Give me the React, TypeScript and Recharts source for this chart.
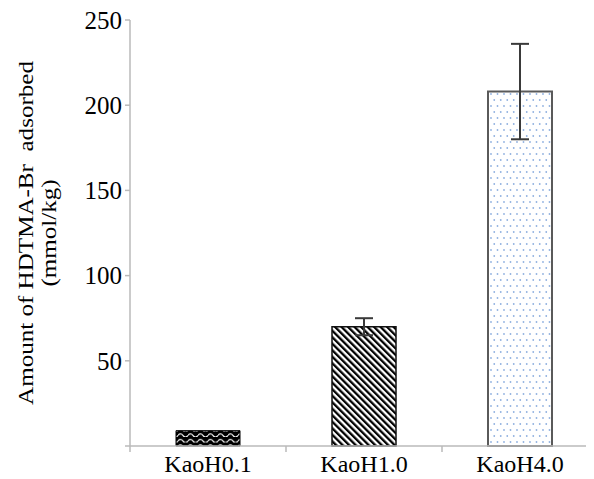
import React from 'react';
import { BarChart, Bar, XAxis, YAxis, ErrorBar, Cell, Label } from 'recharts';

const categories = ['KaoH0.1', 'KaoH1.0', 'KaoH4.0'];
const values = [9, 70, 208];
const errors = [0, 5, 28];
const yTicks = [0, 50, 100, 150, 200, 250];
const xTicks = [0, 0.5, 1, 1.5, 2, 2.5, 3];

const data = categories.map((name, i) => ({ name, pos: i + 0.5, value: values[i], err: errors[i] }));

const fills = ['url(#wave)', 'url(#diag)', 'url(#dots)'];
const strokes = ['#000000', '#111111', '#5a5a5a'];
const strokeWidths = [1, 1.5, 2];

const FONT = '"Liberation Serif", "Times New Roman", serif';
const AXIS = '#bababa';

const XTick = (props: any) => {
  const { x, y, payload } = props;
  const v = payload.value;
  if (Number.isInteger(v)) {
    return <line x1={x} x2={x} y1={y} y2={y + 6} stroke={AXIS} strokeWidth={1.5} />;
  }
  return (
    <text x={x} y={y + 26} textAnchor="middle" fontFamily={FONT} fontSize={24} fill="#000">
      {categories[Math.floor(v)]}
    </text>
  );
};

const YLabel = (props: any) => {
  const vb = props.viewBox || {};
  const cy = (vb.y ?? 12) + (vb.height ?? 426) / 2;
  return (
    <g>
      <text transform={`translate(25,${cy}) rotate(-90) scale(1.14,1)`} textAnchor="middle" fontFamily={FONT} fontSize={22} fill="#000">
        {'Amount of HDTMA-Br\u00a0 adsorbed'}
      </text>
      <text transform={`translate(48,${cy}) rotate(-90) scale(1.14,1)`} textAnchor="middle" fontFamily={FONT} fontSize={22} fill="#000">
        (mmol/kg)
      </text>
    </g>
  );
};

export default function App() {
  return (
    <div style={{ width: 586, height: 471, overflow: 'hidden', position: 'relative' }}>
      <svg width={0} height={0} style={{ position: 'absolute' }}>
        <defs>
          <pattern id="wave" patternUnits="userSpaceOnUse" width={10} height={5.5}>
            <rect width={10} height={5.5} fill="#000" />
            <path d="M0,4 Q2.5,0.8 5,4 T10,4" stroke="#fff" strokeWidth={1.2} fill="none" />
          </pattern>
          <pattern id="diag" patternUnits="userSpaceOnUse" width={4.6} height={4.6} patternTransform="rotate(-45)">
            <rect width={4.6} height={4.6} fill="#fff" />
            <rect width={2.3} height={4.6} fill="#000" />
          </pattern>
          <pattern id="dots" patternUnits="userSpaceOnUse" width={13} height={12}>
            <rect width={13} height={12} fill="#fff" />
            <circle cx={2} cy={2} r={0.9} fill="#8fb0e0" />
            <circle cx={8.5} cy={2} r={0.9} fill="#8fb0e0" />
            <circle cx={5.25} cy={8} r={0.9} fill="#8fb0e0" />
            <circle cx={11.75} cy={8} r={0.9} fill="#8fb0e0" />
          </pattern>
        </defs>
      </svg>
      <BarChart width={590} height={471} data={data} margin={{ top: 12, right: 0, bottom: 0, left: 0 }}>
        <XAxis
          dataKey="pos"
          type="number"
          domain={[0, 3]}
          ticks={xTicks}
          interval={0}
          height={33}
          tickSize={0}
          tickMargin={0}
          tick={<XTick />}
          axisLine={{ stroke: AXIS, strokeWidth: 1.5 }}
        />
        <YAxis
          width={122}
          domain={[0, 250]}
          ticks={yTicks}
          interval={0}
          tickSize={5}
          tickMargin={3}
          tickFormatter={(v: number) => (v === 0 ? '' : String(v))}
          tick={{ fontFamily: FONT, fontSize: 25, fill: '#000' }}
          tickLine={{ stroke: AXIS, strokeWidth: 1.5 }}
          axisLine={{ stroke: AXIS, strokeWidth: 1.5 }}
        >
          <Label content={<YLabel />} />
        </YAxis>
        <Bar dataKey="value" barSize={64} isAnimationActive={false}>
          {data.map((d, i) => (
            <Cell key={d.name} fill={fills[i]} stroke={strokes[i]} strokeWidth={strokeWidths[i]} />
          ))}
          <ErrorBar dataKey="err" width={9} stroke="#3a3a3a" strokeWidth={2} isAnimationActive={false} />
        </Bar>
      </BarChart>
    </div>
  );
}
